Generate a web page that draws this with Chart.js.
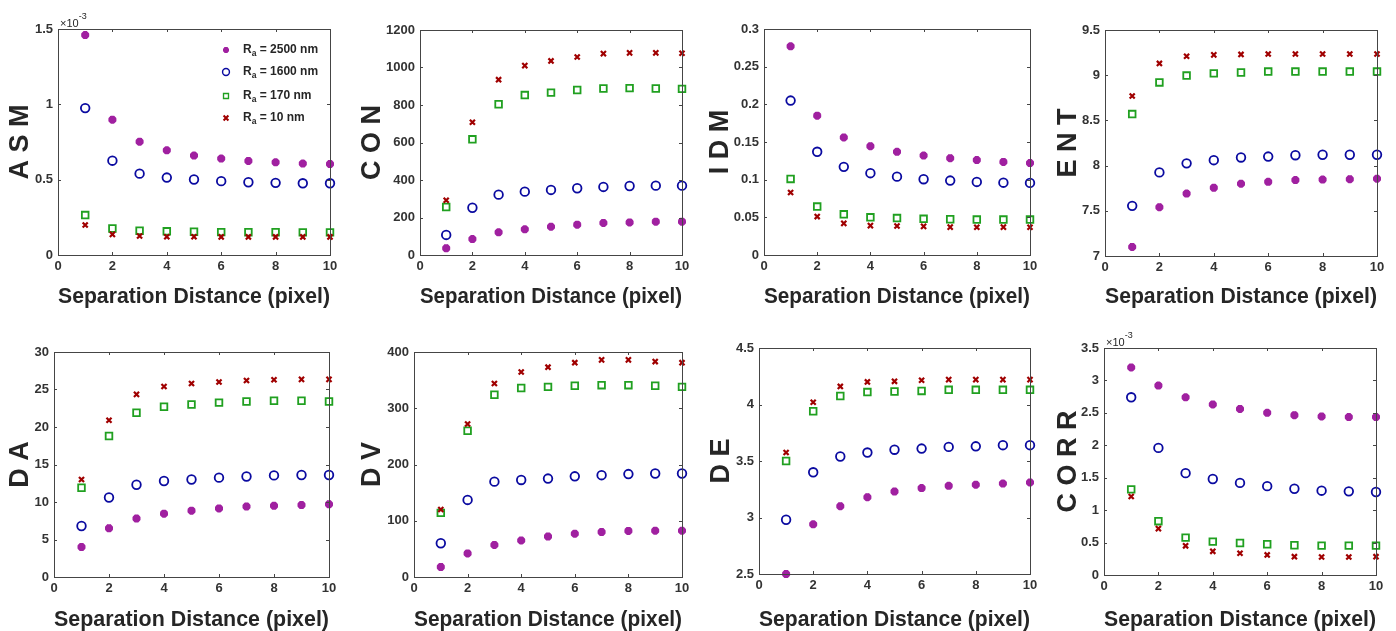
<!DOCTYPE html>
<html>
<head>
<meta charset="utf-8">
<script src="https://cdn.jsdelivr.net/npm/chart.js@4.4.1/dist/chart.umd.min.js"></script>
<style>
  html, body { margin: 0; padding: 0; background: #fff; }
  #wrap { position: relative; width: 1396px; height: 631px; overflow: hidden; }
  #wrap canvas { position: absolute; }
</style>
</head>
<body>
<div id="wrap"></div>
<script>
// separation distance (pixel)
const distances = [1, 2, 3, 4, 5, 6, 7, 8, 9, 10];
const roughness = ['2500', '1600', '170', '10'];

// ASM (x10^-3)
const asm2500 = [1.46, 0.898, 0.752, 0.695, 0.660, 0.640, 0.624, 0.615, 0.607, 0.604];
const asm1600 = [0.975, 0.626, 0.540, 0.514, 0.501, 0.490, 0.483, 0.479, 0.476, 0.476];
const asm170  = [0.265, 0.176, 0.161, 0.157, 0.154, 0.152, 0.151, 0.151, 0.150, 0.150];
const asm10   = [0.199, 0.137, 0.126, 0.121, 0.121, 0.120, 0.120, 0.120, 0.120, 0.120];

// CON
const con2500 = [36, 85, 121, 137, 151, 162, 171, 174, 178, 178];
const con1600 = [107, 252, 322, 338, 347, 356, 363, 368, 370, 370];
const con170  = [256, 617, 804, 853, 866, 880, 888, 890, 888, 886];
const con10   = [292, 708, 935, 1010, 1035, 1056, 1074, 1078, 1078, 1076];

// IDM
const idm2500 = [0.277, 0.185, 0.156, 0.1445, 0.137, 0.132, 0.1285, 0.126, 0.1236, 0.122];
const idm1600 = [0.205, 0.137, 0.117, 0.1086, 0.104, 0.1006, 0.0988, 0.097, 0.096, 0.0957];
const idm170  = [0.101, 0.0643, 0.054, 0.050, 0.049, 0.048, 0.0474, 0.047, 0.047, 0.047];
const idm10   = [0.083, 0.051, 0.042, 0.039, 0.0385, 0.038, 0.037, 0.0368, 0.037, 0.0368];

// ENT
const ent2500 = [7.10, 7.54, 7.69, 7.755, 7.80, 7.82, 7.84, 7.845, 7.85, 7.855];
const ent1600 = [7.555, 7.925, 8.025, 8.06, 8.09, 8.10, 8.115, 8.12, 8.12, 8.12];
const ent170  = [8.57, 8.92, 8.996, 9.02, 9.03, 9.04, 9.04, 9.04, 9.04, 9.04];
const ent10   = [8.77, 9.13, 9.21, 9.225, 9.23, 9.235, 9.235, 9.235, 9.235, 9.235];

// DA
const da2500 = [4.0, 6.5, 7.8, 8.45, 8.85, 9.15, 9.4, 9.5, 9.6, 9.7];
const da1600 = [6.8, 10.6, 12.3, 12.8, 13.0, 13.25, 13.4, 13.55, 13.6, 13.6];
const da170  = [11.9, 18.8, 21.9, 22.7, 23.0, 23.25, 23.4, 23.5, 23.5, 23.4];
const da10   = [13.0, 20.9, 24.35, 25.4, 25.8, 26.0, 26.2, 26.3, 26.35, 26.35];

// DV
const dv2500 = [17.8, 42, 57, 65, 72, 77, 80, 82, 82.4, 82.4];
const dv1600 = [60, 137, 169.5, 172.5, 175, 179, 181, 183, 184, 184];
const dv170  = [114, 260, 324, 336, 338, 340, 341, 341, 340, 338];
const dv10   = [120, 272, 344, 364.5, 373, 381, 386, 386, 383, 381];

// DE
const de2500 = [2.50, 2.94, 3.10, 3.18, 3.23, 3.26, 3.28, 3.29, 3.30, 3.31];
const de1600 = [2.98, 3.40, 3.54, 3.575, 3.60, 3.61, 3.625, 3.63, 3.64, 3.64];
const de170  = [3.50, 3.94, 4.075, 4.11, 4.115, 4.12, 4.13, 4.13, 4.13, 4.13];
const de10   = [3.575, 4.02, 4.16, 4.20, 4.205, 4.215, 4.22, 4.22, 4.22, 4.22];

// CORR (x10^-3)
const corr2500 = [3.20, 2.92, 2.74, 2.63, 2.56, 2.50, 2.465, 2.445, 2.435, 2.435];
const corr1600 = [2.74, 1.96, 1.57, 1.48, 1.42, 1.37, 1.33, 1.30, 1.29, 1.28];
const corr170  = [1.32, 0.83, 0.576, 0.515, 0.494, 0.474, 0.458, 0.453, 0.453, 0.453];
const corr10   = [1.21, 0.715, 0.45, 0.365, 0.335, 0.31, 0.283, 0.278, 0.278, 0.283];

Chart.defaults.font.family = 'Arial, "Liberation Sans", sans-serif';
Chart.defaults.color = '#262626';

// marker look of each roughness series
const markers = [
  { pointStyle: 'star',     radius: 4,   borderWidth: 3,   borderColor: '#a020a0', backgroundColor: '#a020a0' },
  { pointStyle: 'circle',   radius: 4.3, borderWidth: 1.8, borderColor: '#0a0aa0', backgroundColor: 'rgba(0,0,0,0)' },
  { pointStyle: 'rect',     radius: 4.7, borderWidth: 1.8, borderColor: '#20a020', backgroundColor: 'rgba(0,0,0,0)' },
  { pointStyle: 'crossRot', radius: 3.6, borderWidth: 2.2, borderColor: '#a00000', backgroundColor: '#a00000' }
];
// legend symbols are drawn a bit smaller than the data markers
const legendScale = [0.75, 0.8, 0.75, 0.95];

const rows = [
  { bottom: 318, titlePad: 10 },
  { bottom: 631, titlePad: 0 }
];

const panels = [
  { title: 'A S M', series: [asm2500, asm1600, asm170, asm10], min: 0, max: 1.5, step: 0.5, exp: true, legend: true, l: 58, t: 29, r: 330, b: 255, tx: 20, row: 0 },
  { title: 'C O N', series: [con2500, con1600, con170, con10], min: 0, max: 1200, step: 200, l: 420, t: 30, r: 682, b: 255, tx: 372, row: 0 },
  { title: 'I D M', series: [idm2500, idm1600, idm170, idm10], min: 0, max: 0.3, step: 0.05, l: 764, t: 29, r: 1030, b: 255, tx: 720, row: 0 },
  { title: 'E N T', series: [ent2500, ent1600, ent170, ent10], min: 7, max: 9.5, step: 0.5, l: 1105, t: 30, r: 1377, b: 256, tx: 1068, row: 0 },
  { title: 'D A', series: [da2500, da1600, da170, da10], min: 0, max: 30, step: 5, l: 54, t: 352, r: 329, b: 577, tx: 20, row: 1 },
  { title: 'D V', series: [dv2500, dv1600, dv170, dv10], min: 0, max: 400, step: 100, l: 414, t: 352, r: 682, b: 577, tx: 372, row: 1 },
  { title: 'D E', series: [de2500, de1600, de170, de10], min: 2.5, max: 4.5, step: 0.5, l: 759, t: 348, r: 1030, b: 574, tx: 721, row: 1 },
  { title: 'C O R R', series: [corr2500, corr1600, corr170, corr10], min: 0, max: 3.5, step: 0.5, exp: true, l: 1104, t: 348, r: 1376, b: 575, tx: 1068, row: 1 }
];

function drawMarker(ctx, m, x, y, k) {
  ctx.save();
  ctx.strokeStyle = m.borderColor;
  ctx.fillStyle = m.backgroundColor;
  ctx.lineWidth = m.borderWidth * k;
  if (Chart.helpers && Chart.helpers.drawPoint) {
    Chart.helpers.drawPoint(ctx, { pointStyle: m.pointStyle, radius: m.radius * k, borderWidth: m.borderWidth * k, rotation: 0 }, x, y);
  }
  ctx.restore();
}

// MATLAB-like box, inward ticks, exponent label and legend
const matlabFrame = {
  id: 'matlabFrame',
  afterDatasetsDraw(chart, args, opts) {
    const { ctx, chartArea: a, scales } = chart;
    ctx.save();
    ctx.strokeStyle = '#454545';
    ctx.lineWidth = 1;
    ctx.strokeRect(Math.round(a.left) + 0.5, Math.round(a.top) + 0.5,
      Math.round(a.right - a.left), Math.round(a.bottom - a.top));
    ctx.beginPath();
    scales.x.ticks.forEach(tk => {
      const px = Math.round(scales.x.getPixelForValue(tk.value)) + 0.5;
      ctx.moveTo(px, a.bottom); ctx.lineTo(px, a.bottom - 3);
      ctx.moveTo(px, a.top); ctx.lineTo(px, a.top + 3);
    });
    scales.y.ticks.forEach(tk => {
      const py = Math.round(scales.y.getPixelForValue(tk.value)) + 0.5;
      ctx.moveTo(a.left, py); ctx.lineTo(a.left + 3, py);
      ctx.moveTo(a.right, py); ctx.lineTo(a.right - 3, py);
    });
    ctx.stroke();

    if (opts.exp) {
      ctx.fillStyle = '#262626';
      ctx.textBaseline = 'alphabetic';
      ctx.font = '11px Arial, "Liberation Sans", sans-serif';
      const base = '\u00d710';
      ctx.fillText(base, a.left + 2, a.top - 2);
      const w = ctx.measureText(base).width;
      ctx.font = '9px Arial, "Liberation Sans", sans-serif';
      ctx.fillText('-3', a.left + 2 + w, a.top - 10);
    }

    if (opts.legend) {
      const offs = [21, 43, 67, 89];
      ctx.fillStyle = '#262626';
      ctx.textBaseline = 'middle';
      roughness.forEach((name, i) => {
        const y = a.top + offs[i];
        drawMarker(ctx, markers[i], a.right - 104, y, legendScale[i]);
        let x = a.right - 87;
        ctx.fillStyle = '#262626';
        ctx.font = 'bold 12px Arial, "Liberation Sans", sans-serif';
        ctx.fillText('R', x, y);
        x += ctx.measureText('R').width;
        ctx.font = 'bold 8.5px Arial, "Liberation Sans", sans-serif';
        ctx.fillText('a', x, y + 4);
        x += ctx.measureText('a').width;
        ctx.font = 'bold 12px Arial, "Liberation Sans", sans-serif';
        ctx.fillText(' = ' + name + ' nm', x, y);
      });
    }
    ctx.restore();
  }
};

const wrap = document.getElementById('wrap');

panels.forEach(p => {
  const row = rows[p.row];
  const cl = p.tx - 18;
  const ct = p.t - 22;
  const W = p.r + 14 - cl;
  const H = row.bottom - ct;
  const yw = p.l - cl;
  const xh = row.bottom - p.b;

  const canvas = document.createElement('canvas');
  canvas.width = W;
  canvas.height = H;
  canvas.style.left = cl + 'px';
  canvas.style.top = ct + 'px';
  canvas.style.width = W + 'px';
  canvas.style.height = H + 'px';
  wrap.appendChild(canvas);

  new Chart(canvas, {
    type: 'scatter',
    data: {
      datasets: p.series.map((vals, i) => ({
        label: 'Ra = ' + roughness[i] + ' nm',
        data: distances.map((d, k) => ({ x: d, y: vals[k] })),
        showLine: false,
        clip: false,
        order: 3 - i,
        ...markers[i]
      }))
    },
    options: {
      responsive: false,
      animation: false,
      events: [],
      layout: { padding: { top: 22, right: 14, left: 0, bottom: 0 } },
      plugins: {
        legend: { display: false },
        tooltip: { enabled: false },
        matlabFrame: { exp: !!p.exp, legend: !!p.legend }
      },
      scales: {
        x: {
          type: 'linear',
          position: 'bottom',
          min: 0,
          max: 10,
          grid: { display: false, drawTicks: false },
          border: { display: false },
          ticks: {
            stepSize: 2,
            padding: 4,
            maxRotation: 0,
            autoSkip: false,
            font: { size: 13, weight: 'bold' },
            color: '#333'
          },
          title: {
            display: true,
            text: 'Separation Distance (pixel)',
            font: { size: 21.5, weight: 'bold', lineHeight: 1 },
            color: '#262626',
            padding: { top: 0, bottom: row.titlePad }
          },
          afterFit(scale) { scale.height = xh; }
        },
        y: {
          type: 'linear',
          position: 'left',
          min: p.min,
          max: p.max,
          grid: { display: false, drawTicks: false },
          border: { display: false },
          ticks: {
            stepSize: p.step,
            padding: 5,
            autoSkip: false,
            font: { size: 13, weight: 'bold' },
            color: '#333',
            callback: v => String(Math.round(v * 10000) / 10000)
          },
          title: {
            display: true,
            text: p.title,
            font: { size: 27, weight: 'bold', lineHeight: 1.2 },
            color: '#262626',
            padding: { top: 2, bottom: 0 }
          },
          afterFit(scale) { scale.width = yw; }
        }
      }
    },
    plugins: [matlabFrame]
  });
});
</script>
</body>
</html>
